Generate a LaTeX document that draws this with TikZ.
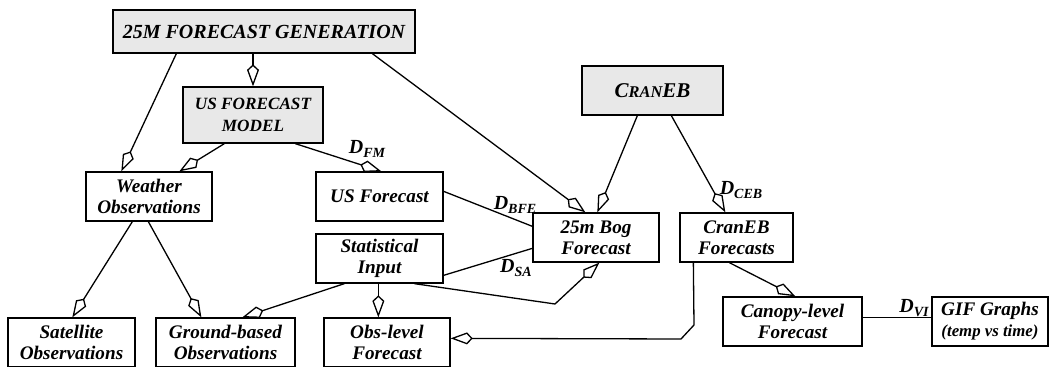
\documentclass[tikz,border=0pt]{standalone}
\usepackage{fontspec}
\setmainfont{Liberation Serif}
\usetikzlibrary{arrows.meta,calc}
\newcommand\Dlab[1]{D\raisebox{-2.2pt}{\fontsize{7}{8}\selectfont #1}}
\newcommand\smallcap[1]{{\fontsize{8.2}{9}\selectfont #1}}

\tikzset{
  box/.style={draw,line width=0.65pt,align=center,inner sep=0pt,minimum height=24.5pt,
    font=\fontsize{9.6}{10.4}\selectfont\bfseries\itshape},
  topbox/.style={box,fill=black!9},
  agg/.style={line width=0.65pt,-{Kite[open,length=11pt,width=6pt,inset=2.8pt]}},
  link/.style={line width=0.65pt},
  dlabel/.style={inner sep=0pt,font=\fontsize{10}{12}\selectfont\bfseries\itshape},
}

\begin{document}
\begin{tikzpicture}[x=0.5pt,y=-0.5pt] % one unit = one pixel of the sketch
\useasboundingbox (0,0) rectangle (1049,367);

% controlling boxes
\node[topbox,minimum width=151pt,minimum height=21.5pt,font=\fontsize{10}{11}\selectfont\bfseries\itshape] (gen) at (264,31.5) {25M FORECAST GENERATION};
\node[topbox,minimum width=70pt,minimum height=28pt,font=\fontsize{8.6}{11}\selectfont\bfseries\itshape] (usmodel) at (253,115) {US FORECAST\\MODEL};
\node[topbox,minimum width=70.5pt,font=\fontsize{10.5}{11}\selectfont\bfseries\itshape] (craneb) at (652.5,90.5) {C\smallcap{RAN}EB};

% data boxes
\node[box,minimum width=63pt] (weather) at (149,196.5) {Weather\\Observations};
\node[box,minimum width=63.5pt] (usfc) at (379.5,196.5) {US Forecast};
\node[box,minimum width=63.5pt] (stat) at (379.5,258.5) {Statistical\\Input};
\node[box,minimum width=63pt] (bog) at (596,237.5) {25m Bog\\Forecast};
\node[box,minimum width=56.5pt] (cranfc) at (736.5,237.5) {CranEB\\Forecasts};
\node[box,minimum width=63.5pt] (sat) at (71.5,342.5) {Satellite\\Observations};
\node[box,minimum width=69.5pt] (ground) at (225.5,342.5) {Ground-based\\Observations};
\node[box,minimum width=63pt] (obs) at (387,342.5) {Obs-level\\Forecast};
\node[box,minimum width=69.5pt] (canopy) at (792.5,321.5) {Canopy-level\\Forecast};
\node[box,minimum width=58pt] (gif) at (990,321.5) {GIF Graphs\\{\fontsize{8.4}{9}\selectfont(temp vs time)}};

% aggregation arrows
\draw[agg] (usmodel.north |- gen.south) -- (usmodel.north);
\draw[agg] ($(gen.south west)+(64,0)$) -- ($(weather.north west)+(36,0)$);
\draw[agg] ($(gen.south west)+(260,0)$) -- ($(bog.north west)+(53,0)$);
\draw[agg] ($(usmodel.south west)+(42,0)$) -- ($(weather.north west)+(94,0)$);
\draw[agg] ($(usmodel.south west)+(113,0)$) -- ($(usfc.north west)+(66,0)$);
\draw[agg] ($(craneb.south west)+(56,0)$) -- ($(bog.north west)+(65,0)$);
\draw[agg] ($(craneb.south west)+(90,0)$) -- ($(cranfc.north west)+(46,0)$);
\draw[agg] ($(weather.south west)+(47,0)$) -- ($(sat.north west)+(65,0)$);
\draw[agg] ($(weather.south west)+(63,0)$) -- ($(ground.north west)+(46,0)$);
\draw[agg] ($(stat.south west)+(29,0)$) -- ($(ground.north west)+(87,0)$);
\draw[agg] ($(stat.south west)+(63,0)$) -- ($(obs.north west)+(55,0)$);
\draw[agg] ($(stat.south west)+(99,0)$) -- (555,304) -- ($(bog.south west)+(67,0)$);
\draw[agg] ($(cranfc.south west)+(50,0)$) -- ($(canopy.north west)+(73,0)$);
\draw[agg] ($(cranfc.south west)+(14,0)$) -- (694,325) -- (681,339) -- ($(obs.north east)+(0,21)$);

% data flows
\draw[link] ($(usfc.north east)+(0,20)$) -- ($(bog.north west)+(0,14)$);
\draw[link] ($(stat.north east)+(0,42)$) -- ($(bog.north west)+(0,36)$);
\draw[link] ($(canopy.north east)+(0,21)$) -- ($(gif.north west)+(0,21)$);

\node[dlabel] (dfm) at (367,149) {\Dlab{FM}};
\node[dlabel] (dbfe) at (515,205) {\Dlab{BFE}};
\node[dlabel] (dsa) at (516,268) {\Dlab{SA}};
\node[dlabel] (dceb) at (741,190) {\Dlab{CEB}};
\node[dlabel] (dvi) at (914,308) {\Dlab{VI}};

\end{tikzpicture}
\end{document}
